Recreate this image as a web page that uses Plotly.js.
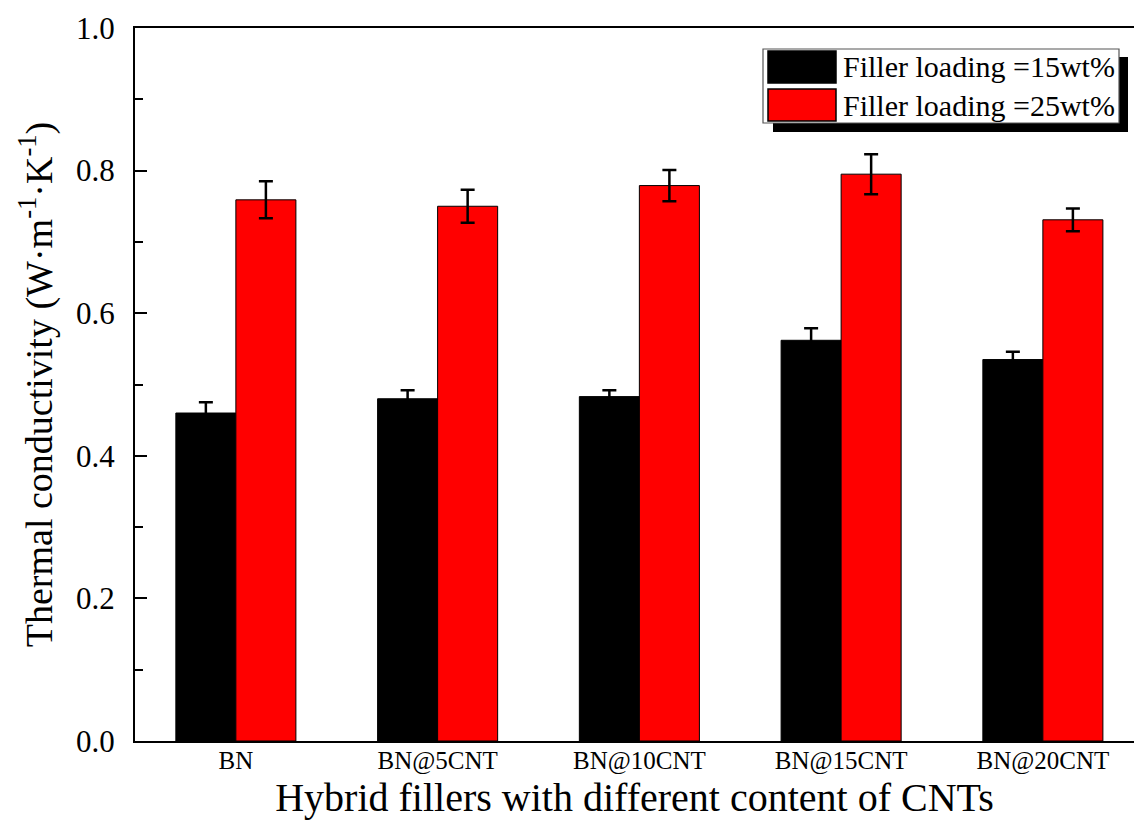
<!DOCTYPE html>
<html>
<head>
<meta charset="utf-8">
<script src="https://cdn.plot.ly/plotly-3.0.1.min.js"></script>
<style>
  html, body { margin: 0; padding: 0; background: #fff; }
  #chart { width: 1134px; height: 823px; }
</style>
</head>
<body>
<div id="chart"></div>
<script>
// Hybrid filler composition on the x axis
const categories = ['BN', 'BN@5CNT', 'BN@10CNT', 'BN@15CNT', 'BN@20CNT'];

// Thermal conductivity (W·m-1·K-1) and standard deviation per loading
const k15 = [0.460, 0.480, 0.483, 0.562, 0.535];
const err15 = [0.015, 0.012, 0.009, 0.017, 0.011];
const k25 = [0.759, 0.750, 0.779, 0.795, 0.731];
const err25 = [0.026, 0.023, 0.022, 0.028, 0.016];

const seriesNames = ['Filler loading =15wt%', 'Filler loading =25wt%'];
const seriesColors = ['#000000', '#ff0000'];

const FONT = 'Liberation Serif, Times New Roman, serif';

// Plot frame geometry in pixels (used for the hand-drawn legend box)
const W = 1134, H = 823;
const M = { l: 135, r: 0, t: 28, b: 82 };
const plotW = W - M.l - M.r, plotH = H - M.t - M.b;
const px = x => (x - M.l) / plotW;
const py = y => (H - M.b - y) / plotH;

function barTrace(i, values, errors) {
  return {
    type: 'bar',
    name: seriesNames[i],
    x: categories,
    y: values,
    marker: { color: seriesColors[i], line: { color: '#000', width: 1 } },
    error_y: { type: 'data', array: errors, visible: true, color: '#000', thickness: 2.5, width: 7 },
    showlegend: false,
    hoverinfo: 'x+y'
  };
}

const data = [barTrace(0, k15, err15), barTrace(1, k25, err25)];

// Legend: framed box with drop shadow, large swatches
const shapes = [
  { type: 'rect', xref: 'paper', yref: 'paper', x0: px(773), x1: px(1128), y0: py(132), y1: py(57),
    fillcolor: '#000', line: { width: 0 } },
  { type: 'rect', xref: 'paper', yref: 'paper', x0: px(763), x1: px(1119), y0: py(123), y1: py(49),
    fillcolor: '#fff', line: { color: '#555', width: 1.2 } }
];
const annotations = [];
const rowTop = [51, 89];
seriesNames.forEach((name, i) => {
  shapes.push({ type: 'rect', xref: 'paper', yref: 'paper', x0: px(768), x1: px(836),
    y0: py(rowTop[i] + 32), y1: py(rowTop[i]),
    fillcolor: seriesColors[i], line: { color: '#000', width: 1.5 } });
  annotations.push({ xref: 'paper', yref: 'paper', x: px(841), y: py(rowTop[i] + 16),
    xanchor: 'left', yanchor: 'middle', showarrow: false, text: name,
    font: { family: FONT, size: 30, color: '#000' } });
});

const layout = {
  width: W, height: H,
  margin: M,
  paper_bgcolor: '#fff', plot_bgcolor: '#fff',
  barmode: 'group',
  bargap: 0.405,
  bargroupgap: 0,
  font: { family: FONT, color: '#000' },
  xaxis: {
    range: [-0.5, -0.5 + plotW / 201.75],
    showline: true, linecolor: '#000', linewidth: 2, mirror: true,
    ticks: '', showgrid: false, zeroline: false,
    ticklabelstandoff: -4,
    tickfont: { family: FONT, size: 25 },
    title: { text: 'Hybrid fillers with different content of CNTs', font: { family: FONT, size: 40 }, standoff: 6 }
  },
  yaxis: {
    range: [0, 1.0],
    tickvals: [0, 0.2, 0.4, 0.6, 0.8, 1.0],
    ticktext: ['0.0', '0.2', '0.4', '0.6', '0.8', '1.0'],
    showline: true, linecolor: '#000', linewidth: 2,
    ticks: 'inside', ticklen: 12, tickwidth: 2, tickcolor: '#000',
    minor: { dtick: 0.1, ticks: 'inside', ticklen: 8, tickwidth: 2, tickcolor: '#000', showgrid: false },
    ticklabelstandoff: 12,
    showgrid: false, zeroline: false,
    tickfont: { family: FONT, size: 31 },
    title: { text: 'Thermal conductivity (W·m<sup>-1</sup>·K<sup>-1</sup>)', font: { family: FONT, size: 38 }, standoff: 12 }
  },
  shapes: shapes,
  annotations: annotations
};

Plotly.newPlot('chart', data, layout, { staticPlot: true, displayModeBar: false });
</script>
</body>
</html>
